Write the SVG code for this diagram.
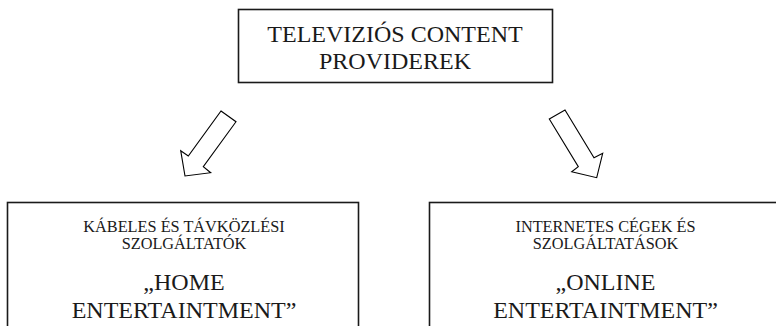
<svg xmlns="http://www.w3.org/2000/svg" width="776" height="326" viewBox="0 0 776 326">
<style>
.box{fill:#fff;stroke:#1a1a1a;stroke-width:1.6}
.arr{fill:#fff;stroke:#000;stroke-width:1.1;stroke-linejoin:miter}
text{font-family:"Liberation Serif","Times New Roman",serif;fill:#1a1a1a;text-anchor:middle}
.big{font-size:24px}
.small{font-size:16.3px}
</style>
<rect width="776" height="326" fill="#fff"/>
<g id="top">
<rect class="box" x="238.5" y="9.5" width="314" height="73"/>
<text class="big" x="395" y="41.5">TELEVIZIÓS CONTENT</text>
<text class="big" x="395" y="69">PROVIDEREK</text>
</g>
<g id="left">
<rect class="box" x="7.5" y="202.5" width="351" height="140"/>
<text class="small" x="184" y="231.5">KÁBELES ÉS TÁVKÖZLÉSI</text>
<text class="small" x="184" y="249">SZOLGÁLTATÓK</text>
<text class="big" x="184" y="290">„HOME</text>
<text class="big" x="184" y="318">ENTERTAINTMENT”</text>
</g>
<g id="right">
<rect class="box" x="429.5" y="202.5" width="351" height="140"/>
<text class="small" x="605.5" y="231.5">INTERNETES CÉGEK ÉS</text>
<text class="small" x="605.5" y="249">SZOLGÁLTATÁSOK</text>
<text class="big" x="605.5" y="290">„ONLINE</text>
<text class="big" x="605.5" y="318">ENTERTAINTMENT”</text>
</g>
<g id="connectors">
<polygon class="arr" points="221,111 236,121.7 203.3,166.7 210.7,172.7 185,176 180.7,150.7 188.3,156"/>
<polygon class="arr" points="549.3,119 565,110 594,157.7 602.7,153.3 596.7,177.7 571.7,171.7 578.3,166.7"/>
</g>
</svg>
